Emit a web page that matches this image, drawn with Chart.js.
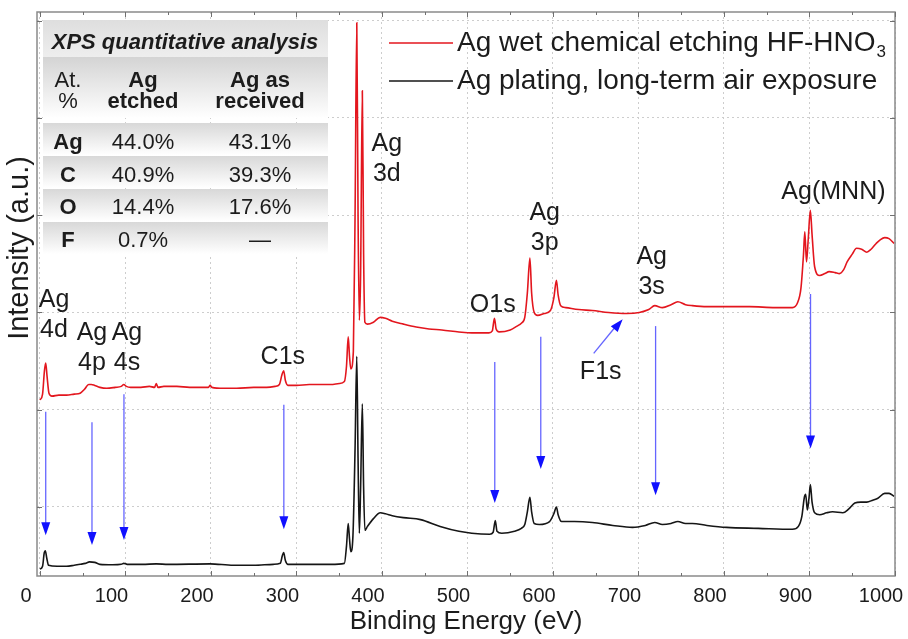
<!DOCTYPE html>
<html>
<head>
<meta charset="utf-8">
<script src="https://cdn.jsdelivr.net/npm/chart.js@4.4.1/dist/chart.umd.min.js"></script>
<style>
  html, body { margin: 0; padding: 0; background: #fff; }
  #wrap { width: 908px; height: 639px; position: relative; }
</style>
</head>
<body>
<div id="wrap"><canvas id="xps"></canvas></div>
<script>
// XPS survey spectra
// x = binding energy (eV), y = intensity (a.u., one unit = one horizontal grid step)
const etchedEnergy = [0, 3, 5.2, 6.7, 8.3, 10.5, 14, 22, 31, 40, 47, 52, 57, 60, 64, 70, 78, 88, 95, 98, 101, 106, 118, 128, 134, 136, 138, 145, 160, 175, 190, 197, 199, 201, 215, 230, 250, 265, 275, 280, 283, 285, 287, 290, 300, 315, 330, 340, 350, 356, 358.5, 360.5, 362, 363.5, 366.5, 368.5, 370.5, 372, 373.5, 375, 377, 378.5, 380, 383, 390, 398, 404, 412, 425, 440, 455, 470, 490, 505, 515, 525, 529, 531.5, 533.5, 537, 550, 558, 563, 567, 570, 573, 575, 578, 582, 590, 597, 601, 604, 606, 609, 615, 630, 646, 665, 686, 701, 712, 719, 728, 738, 746, 755, 763, 780, 803, 830, 860, 880, 886, 890, 893, 894.5, 896.5, 898.5, 901, 903, 906, 912, 918, 923, 930, 935, 940, 944, 950, 955, 961, 967, 972, 978, 983, 988, 993, 999];
const etchedIntensity = [1.10, 1.16, 1.40, 1.48, 1.34, 1.17, 1.14, 1.15, 1.15, 1.16, 1.17, 1.21, 1.26, 1.26, 1.25, 1.23, 1.22, 1.23, 1.24, 1.26, 1.24, 1.23, 1.23, 1.24, 1.23, 1.27, 1.23, 1.24, 1.24, 1.23, 1.23, 1.23, 1.25, 1.23, 1.22, 1.22, 1.23, 1.23, 1.24, 1.26, 1.36, 1.40, 1.30, 1.25, 1.25, 1.26, 1.26, 1.26, 1.27, 1.29, 1.45, 1.75, 1.55, 1.42, 1.60, 3.0, 4.98, 3.0, 1.92, 2.4, 4.28, 2.6, 1.90, 1.88, 1.90, 1.95, 1.94, 1.91, 1.88, 1.85, 1.83, 1.82, 1.80, 1.79, 1.79, 1.79, 1.81, 1.94, 1.83, 1.80, 1.82, 1.86, 1.89, 1.95, 2.2, 2.56, 2.2, 2.00, 1.97, 1.99, 2.02, 2.15, 2.33, 2.18, 2.07, 2.05, 2.03, 2.02, 2.00, 1.99, 2.00, 2.03, 2.07, 2.05, 2.08, 2.11, 2.08, 2.07, 2.06, 2.06, 2.06, 2.05, 2.05, 2.10, 2.25, 2.60, 2.83, 2.52, 2.75, 3.05, 2.80, 2.47, 2.38, 2.40, 2.42, 2.41, 2.40, 2.44, 2.52, 2.60, 2.66, 2.65, 2.62, 2.65, 2.71, 2.75, 2.77, 2.76, 2.71];

const receivedEnergy = [0, 3, 5, 6.2, 8, 10, 20, 31, 40, 47, 53, 58, 64, 70, 85, 95, 98, 102, 120, 136, 150, 199, 226, 250, 273, 281, 283.5, 285, 287, 290, 320, 340, 356, 358.5, 360.5, 362, 363.5, 366, 368.5, 370.5, 372, 373.5, 375, 377, 378.5, 380, 383, 390, 398, 404, 412, 425, 445, 468, 490, 505, 526, 530, 532.5, 534.5, 540, 555, 563, 567, 570, 573, 575, 578, 584, 596, 601, 604, 606, 610, 625, 646, 670, 693, 708, 719, 728, 738, 746, 755, 763, 780, 803, 840, 880, 887, 891, 894, 895.5, 897.5, 899.5, 901, 903, 906, 912, 920, 927, 939, 946, 953, 960, 967, 974, 980, 988, 993, 999];
const receivedIntensity = [-0.64, -0.61, -0.47, -0.45, -0.53, -0.60, -0.61, -0.61, -0.60, -0.59, -0.58, -0.565, -0.57, -0.59, -0.595, -0.59, -0.58, -0.59, -0.59, -0.585, -0.59, -0.585, -0.60, -0.60, -0.59, -0.58, -0.50, -0.47, -0.55, -0.59, -0.59, -0.59, -0.58, -0.40, -0.17, -0.33, -0.46, -0.30, 0.6, 1.55, 0.5, -0.27, 0.2, 1.06, 0.2, -0.24, -0.20, -0.12, -0.06, -0.07, -0.09, -0.11, -0.13, -0.20, -0.25, -0.27, -0.28, -0.26, -0.14, -0.25, -0.27, -0.25, -0.22, -0.18, -0.05, 0.10, -0.05, -0.17, -0.18, -0.15, -0.07, 0.00, -0.08, -0.15, -0.15, -0.16, -0.19, -0.21, -0.19, -0.16, -0.18, -0.17, -0.15, -0.17, -0.17, -0.19, -0.21, -0.22, -0.23, -0.20, -0.10, 0.10, 0.13, -0.03, 0.10, 0.23, 0.05, -0.06, -0.08, -0.06, -0.05, -0.06, -0.02, 0.04, 0.05, 0.05, 0.07, 0.09, 0.14, 0.14, 0.11];

const seriesLabels = ['Ag wet chemical etching HF-HNO\u2083', 'Ag plating, long-term air exposure'];
const seriesColors = ['#e3161e', '#161616'];

const xTicks = [0, 100, 200, 300, 400, 500, 600, 700, 800, 900, 1000];
const yTicks = [0, 1, 2, 3, 4, 5];

// peak labels (energy, intensity of the first line)
const peakText = [['Ag', '4d'], ['Ag', '4p'], ['Ag', '4s'], ['C1s'], ['Ag', '3d'], ['O1s'], ['Ag', '3p'], ['Ag', '3s'], ['Ag(MNN)'], ['F1s']];
const peakE = [16.4, 60.8, 101.7, 284, 405.6, 529.5, 590.3, 715.4, 928, 655.8];
const peakV = [2.13, 1.79, 1.79, 1.54, 3.73, 2.08, 3.02, 2.57, 3.24, 1.39];

// blue arrows pointing at the peaks of the as-received spectrum
const arrowE = [6.7, 60.8, 98.2, 285.2, 531.9, 585.7, 720, 901.2];
const arrowFrom = [0.98, 0.87, 1.16, 1.05, 1.49, 1.75, 1.86, 2.19];
const arrowTo = [-0.29, -0.39, -0.34, -0.23, 0.04, 0.39, 0.12, 0.60];
// F1s arrow (slanted): [energy, intensity] tail and tip
const f1sTail = [647.6, 1.58];
const f1sTip = [681.5, 1.93];

// inset table
const tableTitle = 'XPS quantitative analysis';
const tableHeader = [['At.', '%'], ['Ag', 'etched'], ['Ag as', 'received']];
const tableElements = ['Ag', 'C', 'O', 'F'];
const etchedPct = ['44.0%', '40.9%', '14.4%', '0.7%'];
const receivedPct = ['43.1%', '39.3%', '17.6%', '\u2014'];

const FONT = '"Liberation Sans", Arial, sans-serif';
const TEXT = '#1c1c1c';

function drawSubText(ctx, str, x, y, size) {
  // draws text, turning "₃" into a real subscript
  const parts = str.split('\u2083');
  ctx.font = size + 'px ' + FONT;
  ctx.fillText(parts[0], x, y);
  if (parts.length > 1) {
    const w = ctx.measureText(parts[0]).width;
    ctx.font = Math.round(size * 0.62) + 'px ' + FONT;
    ctx.fillText('3', x + w + 1, y + size * 0.32);
  }
}

function arrowHead(ctx, x1, y1, x2, y2) {
  const ang = Math.atan2(y2 - y1, x2 - x1);
  const len = 13, half = 4.5;
  ctx.beginPath();
  ctx.moveTo(x2, y2);
  ctx.lineTo(x2 - len * Math.cos(ang) + half * Math.sin(ang), y2 - len * Math.sin(ang) - half * Math.cos(ang));
  ctx.lineTo(x2 - len * Math.cos(ang) - half * Math.sin(ang), y2 - len * Math.sin(ang) + half * Math.cos(ang));
  ctx.closePath();
  ctx.fill();
}

const decor = {
  id: 'decor',
  afterDraw(chart) {
    const ctx = chart.ctx;
    const a = chart.chartArea;
    const xs = chart.scales.x, ys = chart.scales.y;
    ctx.save();

    // frame
    ctx.strokeStyle = '#8a8a8a';
    ctx.lineWidth = 1.5;
    ctx.strokeRect(a.left, a.top, a.right - a.left, a.bottom - a.top);

    // inward ticks on all four sides
    ctx.strokeStyle = '#707070';
    ctx.lineWidth = 1;
    ctx.beginPath();
    xTicks.forEach((v, i) => {
      const px = Math.round(xs.getPixelForValue(v)) + 0.5;
      ctx.moveTo(px, a.bottom); ctx.lineTo(px, a.bottom - 5);
      ctx.moveTo(px, a.top); ctx.lineTo(px, a.top + 5);
      if (i < xTicks.length - 1) {
        const pm = Math.round(xs.getPixelForValue((v + xTicks[i + 1]) / 2)) + 0.5;
        ctx.moveTo(pm, a.bottom); ctx.lineTo(pm, a.bottom - 3);
        ctx.moveTo(pm, a.top); ctx.lineTo(pm, a.top + 3);
      }
    });
    yTicks.forEach(v => {
      const py = Math.round(ys.getPixelForValue(v)) + 0.5;
      ctx.moveTo(a.left, py); ctx.lineTo(a.left + 5, py);
      ctx.moveTo(a.right, py); ctx.lineTo(a.right - 5, py);
    });
    ctx.stroke();

    // y axis title
    ctx.fillStyle = TEXT;
    ctx.save();
    ctx.translate(20, 248);
    ctx.rotate(-Math.PI / 2);
    ctx.font = '29px ' + FONT;
    ctx.textAlign = 'center';
    ctx.textBaseline = 'middle';
    ctx.fillText('Intensity (a.u.)', 0, 0);
    ctx.restore();

    // inset table
    const tx0 = a.left + 6, tx1 = a.left + 291;
    const band = (y0, y1, c0, c1) => {
      const g = ctx.createLinearGradient(0, y0, 0, y1);
      g.addColorStop(0, c0);
      g.addColorStop(1, c1);
      ctx.fillStyle = g;
      ctx.fillRect(tx0, y0, tx1 - tx0, y1 - y0);
    };
    band(a.top + 8, a.top + 45, '#dedede', '#eeeeee');
    band(a.top + 45, a.top + 106, '#d4d4d4', '#ffffff');
    tableElements.forEach((el, i) => band(a.top + 111 + i * 33, a.top + 143 + i * 33, '#d8d8d8', '#ffffff'));

    const colX = [a.left + 31, a.left + 106, a.left + 223];
    ctx.fillStyle = TEXT;
    ctx.textAlign = 'center';
    ctx.textBaseline = 'middle';
    ctx.font = 'italic bold 22px ' + FONT;
    ctx.fillText(tableTitle, a.left + 148, a.top + 31);
    tableHeader.forEach((lines, c) => {
      ctx.font = (c === 0 ? '' : 'bold ') + '22px ' + FONT;
      lines.forEach((t, k) => ctx.fillText(t, colX[c], a.top + 69 + k * 21));
    });
    tableElements.forEach((el, i) => {
      const yy = a.top + 131 + i * 32.5;
      ctx.font = 'bold 22px ' + FONT;
      ctx.fillText(el, colX[0], yy);
      ctx.font = '22px ' + FONT;
      ctx.fillText(etchedPct[i], colX[1], yy);
      ctx.fillText(receivedPct[i], colX[2], yy);
    });

    // legend
    ctx.textAlign = 'left';
    seriesLabels.forEach((lab, i) => {
      const yy = a.top + 31 + i * 38;
      ctx.strokeStyle = seriesColors[i];
      ctx.lineWidth = 1.6;
      ctx.beginPath();
      ctx.moveTo(a.right - 506, yy);
      ctx.lineTo(a.right - 442, yy);
      ctx.stroke();
      ctx.fillStyle = TEXT;
      drawSubText(ctx, lab, a.right - 438, yy, 28);
    });

    // peak labels
    ctx.textAlign = 'center';
    ctx.font = '25px ' + FONT;
    ctx.fillStyle = TEXT;
    peakText.forEach((lines, i) => {
      const px = xs.getPixelForValue(peakE[i]);
      const py = ys.getPixelForValue(peakV[i]);
      lines.forEach((t, k) => ctx.fillText(t, px, py + k * 30));
    });

    // arrows
    ctx.strokeStyle = 'rgba(50, 50, 255, 0.75)';
    ctx.fillStyle = '#1010ff';
    ctx.lineWidth = 1.3;
    arrowE.forEach((e, i) => {
      const px = xs.getPixelForValue(e);
      const y1 = ys.getPixelForValue(arrowFrom[i]);
      const y2 = ys.getPixelForValue(arrowTo[i]);
      ctx.beginPath();
      ctx.moveTo(px, y1);
      ctx.lineTo(px, y2 - 8);
      ctx.stroke();
      arrowHead(ctx, px, y1, px, y2);
    });
    const fx1 = xs.getPixelForValue(f1sTail[0]), fy1 = ys.getPixelForValue(f1sTail[1]);
    const fx2 = xs.getPixelForValue(f1sTip[0]), fy2 = ys.getPixelForValue(f1sTip[1]);
    ctx.beginPath();
    ctx.moveTo(fx1, fy1);
    ctx.lineTo(fx2 - 6, fy2 + 6);
    ctx.stroke();
    arrowHead(ctx, fx1, fy1, fx2, fy2);

    ctx.restore();
  }
};

const makeData = (xsArr, ysArr) => xsArr.map((e, i) => ({ x: e, y: ysArr[i] }));

new Chart(document.getElementById('xps'), {
  type: 'line',
  data: {
    datasets: [{
      label: seriesLabels[0],
      data: makeData(etchedEnergy, etchedIntensity),
      borderColor: seriesColors[0],
      borderWidth: 1.6,
      pointRadius: 0,
      cubicInterpolationMode: 'monotone'
    }, {
      label: seriesLabels[1],
      data: makeData(receivedEnergy, receivedIntensity),
      borderColor: seriesColors[1],
      borderWidth: 1.6,
      pointRadius: 0,
      cubicInterpolationMode: 'monotone'
    }]
  },
  options: {
    responsive: true,
    maintainAspectRatio: false,
    animation: false,
    devicePixelRatio: 1,
    layout: { padding: { top: 12, right: 13, left: 0, bottom: 0 } },
    plugins: {
      legend: { display: false },
      tooltip: { enabled: false }
    },
    scales: {
      x: {
        type: 'linear',
        min: -3.5,
        max: 1000,
        afterBuildTicks: s => { s.ticks = xTicks.map(v => ({ value: v })); },
        afterFit: s => { s.height = 63; s.paddingLeft = 0; s.paddingRight = 0; },
        ticks: {
          font: { size: 20, family: FONT },
          color: TEXT,
          padding: 8,
          labelOffset: -14,
          maxRotation: 0,
          autoSkip: false,
          callback: v => String(v)
        },
        grid: { color: '#cdcdcd', lineWidth: 1, drawTicks: false },
        border: { display: false, dash: [2, 3] },
        title: {
          display: true,
          text: 'Binding Energy (eV)',
          font: { size: 26, family: FONT },
          color: TEXT,
          padding: { top: 0, bottom: 2 }
        }
      },
      y: {
        min: -0.71,
        max: 5.09,
        afterBuildTicks: s => { s.ticks = yTicks.map(v => ({ value: v })); },
        afterFit: s => { s.width = 37; },
        ticks: { display: false },
        grid: { color: '#cdcdcd', lineWidth: 1, drawTicks: false },
        border: { display: false, dash: [2, 3] }
      }
    }
  },
  plugins: [decor]
});
</script>
</body>
</html>
